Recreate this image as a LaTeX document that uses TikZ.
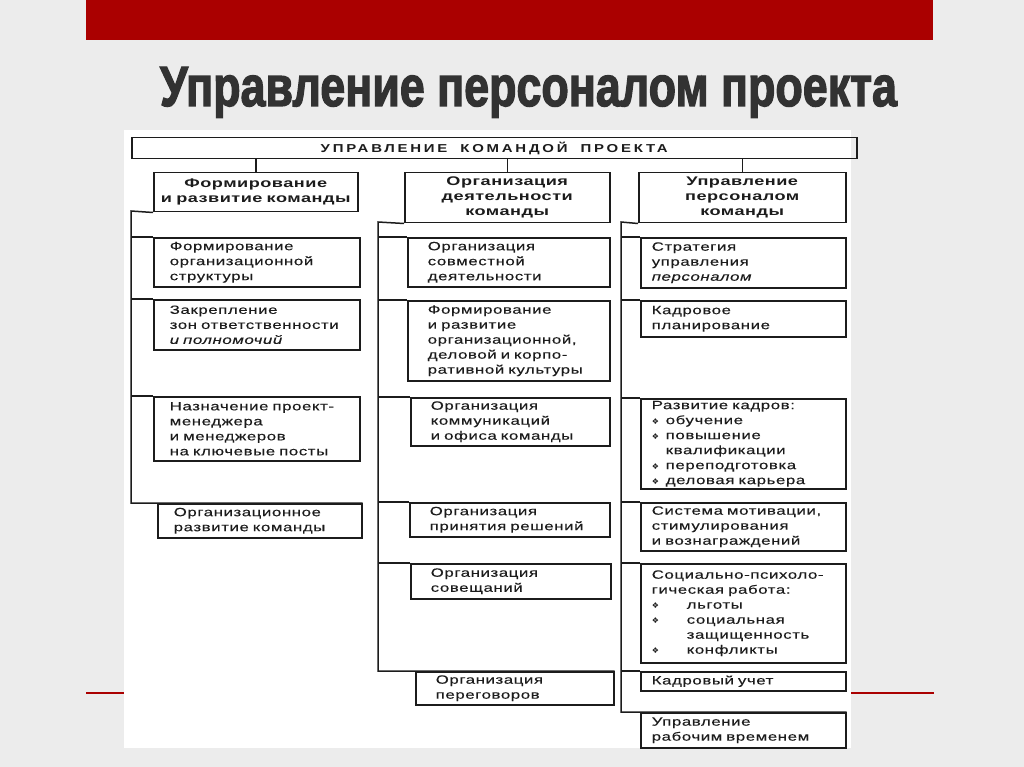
\documentclass[tikz,border=0pt]{standalone}
\usepackage{fontspec}
\usepackage{graphicx}
\setmainfont{Liberation Sans}
\newfontfamily\titlefont[BoldFeatures={FakeBold=2.5}]{Liberation Sans}
\newfontfamily\boxfont[FakeStretch=1.4, LetterSpace=5, WordSpace=1.4, FakeBold=0.15]{Liberation Sans}
\newfontfamily\headfont[FakeStretch=1.45, LetterSpace=4, WordSpace=1.4]{Liberation Sans}
\newfontfamily\capsfont[FakeStretch=1.3, LetterSpace=24]{Liberation Sans}
\newfontfamily\symfont{DejaVu Sans}
\usetikzlibrary{calc, positioning}

\definecolor{slidebg}{RGB}{236,236,236}
\definecolor{slidered}{RGB}{170,0,0}
\definecolor{titlegray}{RGB}{50,50,50}
\definecolor{ink}{RGB}{28,28,28}

% bullet with a fixed indent
\newcommand{\itm}[1][14pt]{\makebox[#1][l]{\symfont\fontsize{8}{8}\selectfont ❖}}
% wide gap between words of the root caption
\newcommand{\gap}{\hspace{13pt}}

\tikzset{
  link/.style={draw=ink, line width=1.5pt},
  box/.style={draw=ink, line width=1.5pt, rectangle, anchor=north west,
    inner xsep=1pt, inner ysep=0pt, align=left, text=ink,
    font=\boxfont\fontsize{12}{15}\selectfont,
    execute at begin node={\leftskip=#1pt}},
  headbox/.style={draw=ink, line width=1.5pt, rectangle, anchor=north west,
    inner sep=0pt, align=center, text=ink,
    font=\headfont\bfseries\fontsize{12.5}{15}\selectfont},
}

\begin{document}
\begin{tikzpicture}[x=1pt, y=-1pt]
  \useasboundingbox (0,0) rectangle (1024,767);
  \fill[slidebg] (0,0) rectangle (1024,767);
  \fill[slidered] (86,0) rectangle (933,40);

  % Slide title
  \node[anchor=base, inner sep=0pt, text=titlegray] (title) at (528.5,106)
    {\resizebox{737pt}{39pt}{\titlefont\bfseries Управление персоналом проекта}};

  % Scanned sheet
  \fill[white] (124,130) rectangle (851,748);
  \draw[slidered, line width=2.5pt] (86,693) -- (124,693) (851,693) -- (934,693);

  % Root
  \node[headbox, text width=725pt, minimum height=21pt,
    font=\capsfont\bfseries\fontsize{11.5}{13}\selectfont] (top) at (131,137)
    {УПРАВЛЕНИЕ\gap КОМАНДОЙ\gap ПРОЕКТА};

  % Column heads
  \foreach \n/\x/\w/\h/\t in {h1/153/204/39/{Формирование\\и развитие команды},
      h2/404/205/50/{Организация\\деятельности\\команды},
      h3/638/207/50/{Управление\\персоналом\\команды}} {
    \node[headbox, text width=\w pt, minimum height=\h pt] (\n) at (\x,172) {\t};
    \draw[link] (top.south -| \n.north) -- (\n.north);
  }

  % Column 1
  \foreach \n/\x/\y/\w/\h/\t in {
      a1/153/237/206/49/{Формирование\\организационной\\структуры},
      a2/153/299/206/50/{Закрепление\\зон ответственности\\\textit{и полномочий}},
      a3/153/396/206/64/{Назначение проект-\\менеджера\\и менеджеров\\на ключевые посты},
      a4/157/503/204/34/{Организационное\\развитие команды}} {
    \pgfmathsetmacro\tw{\w-2}
    \node[box=15, text width=\tw pt, minimum height=\h pt] (\n) at (\x,\y) {\t};
  }
  \coordinate (s1) at (131,211);
  \draw[link] (h1.south west) -- (s1) |- (a4.north east);
  \foreach \n in {a1,a2,a3}
    \draw[link] (s1 |- \n.north west) -- (\n.north west);

  % Column 2
  \foreach \n/\x/\y/\w/\h/\t in {
      b1/407/237/202/49/{Организация\\совместной\\деятельности},
      b2/407/300/202/80/{Формирование\\и развитие\\организационной,\\деловой и корпо-\\ративной культуры},
      b3/410/397/199/48/{Организация\\коммуникаций\\и офиса команды},
      b4/409/502/200/34/{Организация\\принятия решений},
      b5/410/563/200/35/{Организация\\совещаний},
      b6/415/671/198/33/{Организация\\переговоров}} {
    \pgfmathsetmacro\tw{\w-2}
    \node[box=19, text width=\tw pt, minimum height=\h pt] (\n) at (\x,\y) {\t};
  }
  \coordinate (s2) at (378,222);
  \draw[link] (h2.south west) -- (s2) |- (b6.north east);
  \foreach \n in {b1,b2,b3,b4,b5}
    \draw[link] (s2 |- \n.north west) -- (\n.north west);

  % Column 3
  \foreach \n/\x/\y/\w/\h/\t in {
      c1/640/237/205/50/{Стратегия\\управления\\\textit{персоналом}},
      c2/640/300/205/36/{Кадровое\\планирование},
      c3/640/398/205/90/{Развитие кадров:\\\itm обучение\\\itm повышение\\\hspace*{14pt}квалификации\\\itm переподготовка\\\itm деловая карьера},
      c4/640/502/205/48/{Система мотивации,\\стимулирования\\и вознаграждений},
      c5/640/563/205/99/{Социально-психоло-\\гическая работа:\\\itm[35pt]льготы\\\itm[35pt]социальная\\\hspace*{35pt}защищенность\\\itm[35pt]конфликты},
      c6/640/671/205/19/{Кадровый учет},
      c7/640/712/205/35/{Управление\\рабочим временем}} {
    \pgfmathsetmacro\tw{\w-2}
    \node[box=10, text width=\tw pt, minimum height=\h pt] (\n) at (\x,\y) {\t};
  }
  \coordinate (s3) at (621,222);
  \draw[link] (h3.south west) -- (s3) |- (c7.north east);
  \foreach \n in {c1,c2,c3,c4,c5,c6}
    \draw[link] (s3 |- \n.north west) -- (\n.north west);
\end{tikzpicture}
\end{document}
